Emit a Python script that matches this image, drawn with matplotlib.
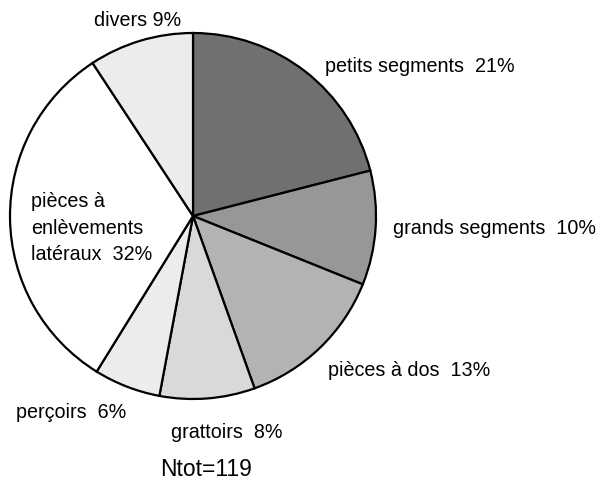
import matplotlib
matplotlib.use("Agg")
import matplotlib.pyplot as plt

categories = ["petits segments", "grands segments", "pièces à dos", "grattoirs",
              "perçoirs", "pièces à\nenlèvements\nlatéraux", "divers"]
counts = [25, 12, 16, 10, 7, 38, 11]
percents = [21, 10, 13, 8, 6, 32, 9]
colors = ["#707072", "#979799", "#b3b3b5", "#d9d9db", "#ececec", "#ffffff", "#ececec"]
total_label = "Ntot=119"

plt.rcParams['font.family'] = ['Liberation Sans', 'DejaVu Sans']
fig = plt.figure(figsize=(6, 4.88), dpi=100)
ax = fig.add_axes([0, 0, 1, 1])

cx, cy, r = 193, 488 - 216, 183
ax.pie(counts, colors=colors, startangle=90, counterclock=False,
       center=(cx, cy), radius=r, frame=True,
       wedgeprops=dict(edgecolor='black', linewidth=1.6))
ax.set_xlim(0, 600)
ax.set_ylim(0, 488)
ax.set_aspect('equal')
ax.axis('off')

fs = 14.2
pos = [(325, 66), (393, 228), (328, 370), (171, 432),
       (16, 412), (31, 228), (94, 20)]
seps = ["  ", "  ", "  ", "  ", "  ", "  ", " "]
for cat, p, (x, y), sep in zip(categories, percents, pos, seps):
    lines = cat.split("\n")
    lines[-1] = f"{lines[-1]}{sep}{p}%"
    ax.text(x, 488 - y, "\n".join(lines), ha='left', va='center', fontsize=fs,
            linespacing=1.5)
ax.text(206, 488 - 470, total_label, ha='center', va='center', fontsize=16.5)

fig.savefig("out.png", dpi=100)
